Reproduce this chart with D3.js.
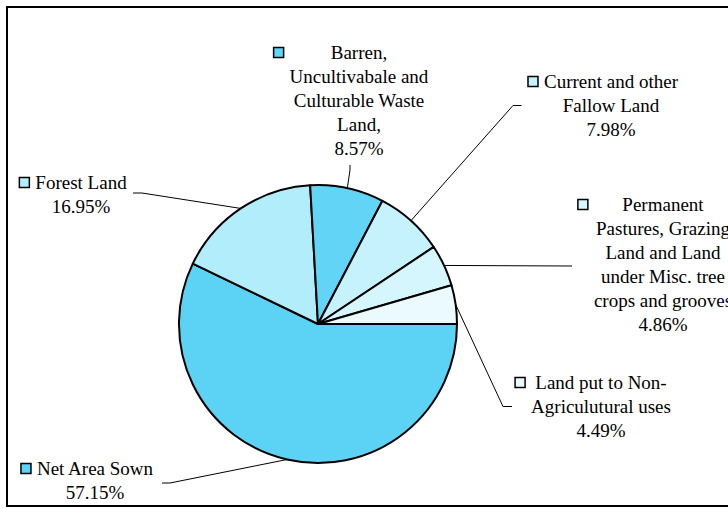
<!DOCTYPE html>
<html><head><meta charset="utf-8">
<script src="https://cdn.jsdelivr.net/npm/d3@7"></script>
<style>html,body{margin:0;padding:0;background:#fff;overflow:hidden}</style>
</head><body>
<svg id="chart" width="728" height="509"></svg>
<script>
const categories = ["Net Area Sown", "Forest Land", "Barren, Uncultivabale and Culturable Waste Land,", "Current and other Fallow Land", "Permanent Pastures, Grazing Land and Land under Misc. tree crops and grooves", "Land put to Non-Agriculutural uses"];
const values = [57.15, 16.95, 8.57, 7.98, 4.86, 4.49];
const labelLines = [
  ["Net Area Sown"],
  ["Forest Land"],
  ["Barren,", "Uncultivabale and", "Culturable Waste", "Land,"],
  ["Current and other", "Fallow Land"],
  ["Permanent", "Pastures, Grazing", "Land and Land", "under Misc. tree", "crops and grooves"],
  ["Land put to Non-", "Agriculutural uses"]
];
const sliceColors = ["#5cd3f4", "#b2edfb", "#62d5f6", "#c6f2fd", "#d6f6fe", "#ebfaff"];

// layout (positions only)
const W = 728, H = 509;
const cx = 318, cy = 324, R = 139;
const labelPos = [[95, 475], [81, 189], [359, 59], [611, 88], [663, 211], [601, 389]];
const leaderBends = [
  [[170, 483], [162, 483]],
  [[142, 193], [133, 193]],
  [[350, 170], [350, 165]],
  [[513, 105.5], [521.5, 105.5]],
  [[572, 266]],
  [[503, 406.5], [512, 406.5]]
];
const lineH = 24;

const svg = d3.select("#chart");
svg.append("rect").attr("width", W).attr("height", H).attr("fill", "#fff");
svg.append("rect").attr("x", 7).attr("y", 7).attr("width", 740).attr("height", 499)
  .attr("fill", "none").attr("stroke", "#000").attr("stroke-width", 2);

const pie = d3.pie().sort(null).value(d => d).startAngle(Math.PI / 2).endAngle(Math.PI / 2 + 2 * Math.PI);
const arcs = pie(values);
const arc = d3.arc().innerRadius(0).outerRadius(R);
const g = svg.append("g").attr("transform", `translate(${cx},${cy})`);
g.selectAll("path").data(arcs).join("path")
  .attr("d", arc)
  .attr("fill", (d, i) => sliceColors[i])
  .attr("stroke", "#000").attr("stroke-width", 2).attr("stroke-linejoin", "round");

// leader lines
const edge = d3.arc().innerRadius(R).outerRadius(R);
arcs.forEach((d, i) => {
  const c = edge.centroid(d);
  const pts = [[cx + c[0], cy + c[1]], ...leaderBends[i]];
  svg.append("path").attr("d", d3.line()(pts)).attr("fill", "none").attr("stroke", "#000").attr("stroke-width", 1);
});

// labels
const fmt = d3.format(".2f");
arcs.forEach((d, i) => {
  const lines = labelLines[i].concat([fmt(values[i]) + "%"]);
  const [lx, ly] = labelPos[i];
  const t = svg.append("text").style("font-family", "\"Liberation Serif\", \"Times New Roman\", serif")
    .style("font-size", "19px").attr("fill", "#000").attr("text-anchor", "middle");
  let maxW = 0;
  lines.forEach((s, k) => {
    const ts = t.append("tspan").attr("x", lx).attr("y", ly + k * lineH).text(s);
    maxW = Math.max(maxW, ts.node().getComputedTextLength());
  });
  const left = lx - maxW / 2;
  svg.append("rect").attr("x", left - 16).attr("y", ly - 11.5).attr("width", 10).attr("height", 10)
    .attr("fill", sliceColors[i]).attr("stroke", "#000").attr("stroke-width", 1.5);
});
</script>
</body></html>
